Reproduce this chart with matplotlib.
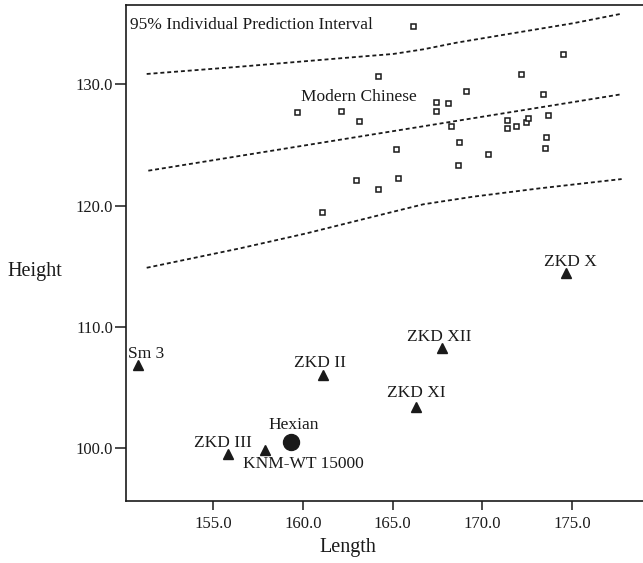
import matplotlib
matplotlib.use('Agg')
from matplotlib import pyplot as plt
from matplotlib.ticker import FormatStrFormatter

plt.rcParams['font.family'] = ['Liberation Serif', 'DejaVu Serif']

# modern chinese sample
mc_length = [164.17, 172.14, 169.11, 173.38, 159.67, 162.14, 163.14, 167.42, 168.07, 167.42,
             168.25, 171.39, 171.36, 171.89, 172.43, 172.55, 173.68, 173.55, 173.49, 168.68,
             170.30, 168.63, 165.17, 162.97, 165.28, 164.20, 161.04, 166.16, 174.50]
mc_height = [130.71, 130.87, 129.47, 129.23, 127.69, 127.82, 127.00, 128.52, 128.46, 127.82,
             126.59, 127.06, 126.40, 126.56, 126.87, 127.25, 127.47, 125.68, 124.77, 125.24,
             124.28, 123.32, 124.64, 122.14, 122.30, 121.40, 119.47, 134.81, 132.48]

# fossil specimens
fossil_names = ['Sm 3', 'ZKD II', 'ZKD XII', 'ZKD XI', 'ZKD X', 'ZKD III', 'KNM-WT 15000']
fossil_length = [150.82, 161.13, 167.78, 166.30, 174.66, 155.80, 157.88]
fossil_height = [106.87, 106.04, 108.24, 103.43, 114.46, 99.50, 99.86]
hexian_length = 159.32
hexian_height = 100.54

# regression line and 95% individual prediction interval
fit_length = [151.38, 177.77]
fit_height = [122.88, 129.18]
upper_length = [151.29, 156.49, 162.06, 165.04, 166.71, 168.57, 171.36, 175.07, 177.68]
upper_height = [130.85, 131.45, 132.14, 132.50, 132.88, 133.43, 134.12, 135.03, 135.79]
lower_length = [151.29, 156.49, 160.21, 163.92, 166.71, 169.50, 173.22, 177.77]
lower_height = [114.88, 116.48, 117.72, 119.09, 120.11, 120.74, 121.43, 122.19]

xticks = [155, 160, 165, 170, 175]
yticks = [100, 110, 120, 130]

# label offsets in points (dx, dy, ha)
label_pos = {
    'Sm 3': (-7.2, 4.8, 'left'),
    'ZKD II': (-2.6, 5.5, 'center'),
    'ZKD XII': (-2.2, 5.3, 'center'),
    'ZKD XI': (0, 7.2, 'center'),
    'ZKD X': (2.9, 5.3, 'center'),
    'ZKD III': (-3.2, 5.5, 'center'),
    'KNM-WT 15000': (-16, -13.2, 'left'),
}

ink = '#1a1a1a'
fig = plt.figure(figsize=(6.43, 5.63), dpi=100)
ax = fig.add_axes([0.1955, 0.1101, 0.8045, 0.8803])

dash = (0, (2.2, 1.6))
ax.plot(upper_length, upper_height, color=ink, lw=1.3, linestyle=dash)
ax.plot(fit_length, fit_height, color=ink, lw=1.3, linestyle=dash)
ax.plot(lower_length, lower_height, color=ink, lw=1.3, linestyle=dash)

ax.plot(mc_length, mc_height, 's', ms=3.6, mfc='white', mec=ink, mew=1.1, linestyle='none')
ax.plot(fossil_length, fossil_height, '^', ms=7.5, color=ink, linestyle='none')
ax.plot([hexian_length], [hexian_height], 'o', ms=11.5, color=ink, linestyle='none')

for name, x, y in zip(fossil_names, fossil_length, fossil_height):
    dx, dy, ha = label_pos[name]
    ax.annotate(name, (x, y), xytext=(dx, dy), textcoords='offset points',
                ha=ha, va='baseline', fontsize=12.5, color=ink)
ax.annotate('Hexian', (hexian_length, hexian_height), xytext=(1.9, 9.1),
            textcoords='offset points', ha='center', va='baseline', fontsize=12.5, color=ink)

ax.text(0.009, 0.9524, '95% Individual Prediction Interval', transform=ax.transAxes,
        ha='left', va='baseline', fontsize=12.5, color=ink)
ax.text(0.4516, 0.8071, 'Modern Chinese', transform=ax.transAxes,
        ha='center', va='baseline', fontsize=12.5, color=ink)

ax.set_xlim(150.12, 178.96)
ax.set_ylim(95.66, 136.50)
ax.set_xticks(xticks)
ax.set_yticks(yticks)
ax.xaxis.set_major_formatter(FormatStrFormatter('%.1f'))
ax.yaxis.set_major_formatter(FormatStrFormatter('%.1f'))
ax.tick_params(axis='both', direction='out', color=ink, labelcolor=ink, labelsize=12, width=1.1)
ax.tick_params(axis='x', length=6.5, pad=4)
ax.tick_params(axis='y', length=8, pad=1)

for side in ['left', 'bottom', 'top']:
    ax.spines[side].set_linewidth(1.2)
    ax.spines[side].set_color(ink)
ax.spines['right'].set_visible(False)

ax.set_xlabel('Length', fontsize=14.5, color=ink)
ax.xaxis.set_label_coords(0.43, -0.074)
ax.set_ylabel('Height', fontsize=14.5, color=ink, rotation=0, ha='center', va='center')
ax.yaxis.set_label_coords(-0.175, 0.464)

plt.savefig('out.png', dpi=100)
